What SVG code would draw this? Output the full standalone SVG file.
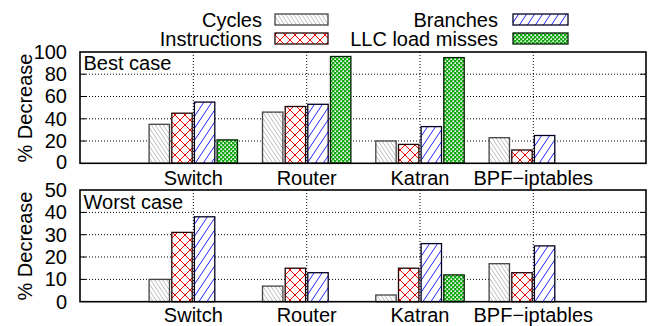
<svg xmlns="http://www.w3.org/2000/svg" width="649" height="326" viewBox="0 0 649 326">
<style>
text{font-family:"Liberation Sans",Arial,sans-serif;font-size:20px;fill:#000}
.r{text-anchor:end}
.m{text-anchor:middle}
.frame{fill:none;stroke:#000;stroke-width:1.6}
.grid{stroke:#000;stroke-width:1;stroke-dasharray:1,2;fill:none}
.tick{stroke:#000;stroke-width:1}
.cyc{fill:url(#pCyc);stroke:#444;stroke-width:1.3}
.ins{fill:url(#pIns);stroke:#200;stroke-width:1.3}
.br{fill:url(#pBr);stroke:#002;stroke-width:1.3}
.llc{fill:url(#pLlc);stroke:#020;stroke-width:1.3}
</style>
<defs>
<pattern id="pCyc" patternUnits="userSpaceOnUse" width="4" height="6">
<rect width="4" height="6" fill="#fff"/>
<path d="M-1,-1.5 L5,7.5 M-5,-1.5 L1,7.5 M3,-1.5 L9,7.5" stroke="#aaa" stroke-width="0.8"/>
</pattern>
<pattern id="pIns" patternUnits="userSpaceOnUse" width="10" height="10">
<rect width="10" height="10" fill="#fff"/>
<path d="M0,0 L10,10 M10,0 L0,10" stroke="#e00" stroke-width="1"/>
</pattern>
<pattern id="pBr" patternUnits="userSpaceOnUse" width="8" height="12">
<rect width="8" height="12" fill="#fff"/>
<path d="M0,12 L8,0 M-8,12 L0,0 M8,12 L16,0" stroke="#22f" stroke-width="1"/>
</pattern>
<pattern id="pLlc" patternUnits="userSpaceOnUse" width="4" height="4">
<rect width="4" height="4" fill="#1a1"/>
<rect x="0.4" y="0.4" width="1.6" height="1.6" fill="#fff"/>
<rect x="2.4" y="2.4" width="1.6" height="1.6" fill="#fff"/>
</pattern>
</defs>
<rect width="649" height="326" fill="#fff"/>

<g id="legend">
<text class="r" x="262" y="27">Cycles</text>
<rect class="cyc" x="275" y="14" width="53" height="11" stroke="#555"/>
<text class="r" x="262" y="45.5">Instructions</text>
<rect class="ins" x="275" y="33" width="53" height="11" stroke="#800"/>
<text class="r" x="498" y="27">Branches</text>
<rect class="br" x="513" y="14" width="55" height="11" stroke="#00a"/>
<text class="r" x="498" y="45.5">LLC load misses</text>
<rect class="llc" x="513" y="33" width="55" height="11" stroke="#060"/>
</g>

<g id="plot-best">
<g id="grid-best">
<path class="grid" d="M80,141 H646 M80,118.8 H646 M80,96.5 H646 M80,74.2 H646 M193.3,52 V163.3 M306.7,52 V163.3 M420,52 V163.3 M533.3,52 V163.3"/>
<path class="tick" d="M80,141 h6 M80,118.8 h6 M80,96.5 h6 M80,74.2 h6 M646,141 h-6 M646,118.8 h-6 M646,96.5 h-6 M646,74.2 h-6"/>
</g>
<g id="bars-best">
<rect class="cyc" x="149.1" y="124.3" width="20.4" height="39"/>
<rect class="ins" x="171.8" y="113.2" width="20.4" height="50.1"/>
<rect class="br" x="194.4" y="102.1" width="20.4" height="61.2"/>
<rect class="llc" x="217.1" y="139.9" width="20.4" height="23.4"/>
<rect class="cyc" x="262.5" y="112.1" width="20.4" height="51.2"/>
<rect class="ins" x="285.2" y="106.5" width="20.4" height="56.8"/>
<rect class="br" x="307.8" y="104.3" width="20.4" height="59"/>
<rect class="llc" x="330.5" y="56.5" width="20.4" height="106.8"/>
<rect class="cyc" x="375.8" y="141" width="20.4" height="22.3"/>
<rect class="ins" x="398.5" y="144.4" width="20.4" height="18.9"/>
<rect class="br" x="421.1" y="126.6" width="20.4" height="36.7"/>
<rect class="llc" x="443.8" y="57.6" width="20.4" height="105.7"/>
<rect class="cyc" x="489.1" y="137.7" width="20.4" height="25.6"/>
<rect class="ins" x="511.8" y="150" width="20.4" height="13.3"/>
<rect class="br" x="534.4" y="135.5" width="20.4" height="27.8"/>
</g>
<rect class="frame" x="80" y="52" width="566" height="111.3"/>
<text x="83.5" y="70">Best case</text>
<text class="r" x="67" y="59">100</text>
<text class="r" x="67" y="81">80</text>
<text class="r" x="67" y="103.3">60</text>
<text class="r" x="67" y="125.6">40</text>
<text class="r" x="67" y="147.8">20</text>
<text class="r" x="67" y="169">0</text>
<text class="m" x="193.3" y="185">Switch</text>
<text class="m" x="306.7" y="185">Router</text>
<text class="m" x="420" y="185">Katran</text>
<text class="m" x="533.3" y="185">BPF−iptables</text>
<text class="m" transform="translate(32,108) rotate(-90)">% Decrease</text>
</g>

<g id="plot-worst">
<g id="grid-worst">
<path class="grid" d="M80,279.4 H646 M80,257 H646 M80,234.7 H646 M80,212.4 H646 M193.3,190 V301.7 M306.7,190 V301.7 M420,190 V301.7 M533.3,190 V301.7"/>
<path class="tick" d="M80,279.4 h6 M80,257 h6 M80,234.7 h6 M80,212.4 h6 M646,279.4 h-6 M646,257 h-6 M646,234.7 h-6 M646,212.4 h-6"/>
</g>
<g id="bars-worst">
<rect class="cyc" x="149.1" y="279.4" width="20.4" height="22.3"/>
<rect class="ins" x="171.8" y="232.4" width="20.4" height="69.3"/>
<rect class="br" x="194.4" y="216.8" width="20.4" height="84.9"/>
<rect class="cyc" x="262.5" y="286.1" width="20.4" height="15.6"/>
<rect class="ins" x="285.2" y="268.2" width="20.4" height="33.5"/>
<rect class="br" x="307.8" y="272.7" width="20.4" height="29"/>
<rect class="cyc" x="375.8" y="295" width="20.4" height="6.7"/>
<rect class="ins" x="398.5" y="268.2" width="20.4" height="33.5"/>
<rect class="br" x="421.1" y="243.6" width="20.4" height="58.1"/>
<rect class="llc" x="443.8" y="274.9" width="20.4" height="26.8"/>
<rect class="cyc" x="489.1" y="263.7" width="20.4" height="38"/>
<rect class="ins" x="511.8" y="272.7" width="20.4" height="29"/>
<rect class="br" x="534.4" y="245.9" width="20.4" height="55.8"/>
</g>
<rect class="frame" x="80" y="190" width="566" height="111.7"/>
<text x="83.5" y="209">Worst case</text>
<text class="r" x="67" y="197">50</text>
<text class="r" x="67" y="219.2">40</text>
<text class="r" x="67" y="241.5">30</text>
<text class="r" x="67" y="263.8">20</text>
<text class="r" x="67" y="286.2">10</text>
<text class="r" x="67" y="308.5">0</text>
<text class="m" x="193.3" y="322">Switch</text>
<text class="m" x="306.7" y="322">Router</text>
<text class="m" x="420" y="322">Katran</text>
<text class="m" x="533.3" y="322">BPF−iptables</text>
<text class="m" transform="translate(32,246) rotate(-90)">% Decrease</text>
</g>
</svg>
